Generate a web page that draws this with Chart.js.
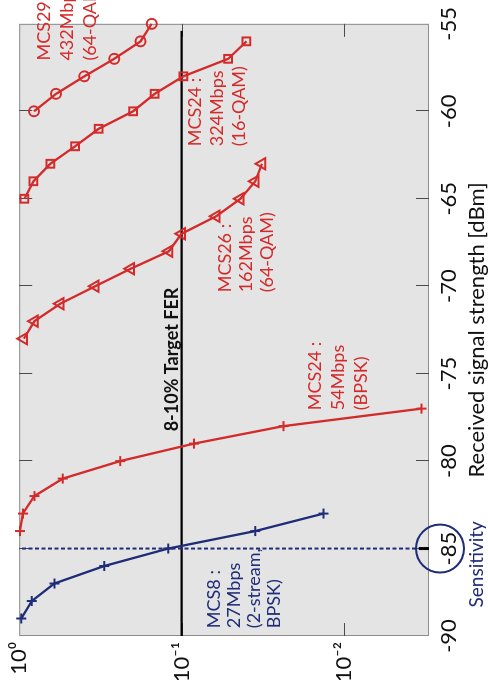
<!DOCTYPE html>
<html>
<head>
<meta charset="utf-8">
<script src="https://cdn.jsdelivr.net/npm/chart.js@4/dist/chart.umd.min.js"></script>
<style>
  html, body { margin: 0; padding: 0; background: #fff; overflow: hidden; width: 488px; height: 696px; }
  /* the figure is laid out landscape and turned a quarter turn for the portrait page */
  #wrap { position: absolute; left: 0; top: 0; width: 696px; height: 488px;
          transform-origin: 0 0; transform: translateY(696px) rotate(-90deg); }
</style>
</head>
<body>
<div id="wrap"><canvas id="fer" width="696" height="488"></canvas></div>
<script>
// Axis ticks
const dbmTicks = [-90, -85, -80, -75, -70, -65, -60, -55];
const ferTicks = [1, 0.1, 0.01];

// Frame error rate vs received signal strength, per MCS
const mcs8Dbm = [-89, -88, -87, -86, -85, -84, -83];
const mcs8Fer = [0.972, 0.836, 0.607, 0.300, 0.121, 0.0352, 0.0134];

const mcs24BpskDbm = [-84, -83, -82, -81, -80, -79, -78, -77];
const mcs24BpskFer = [0.99, 0.949, 0.806, 0.539, 0.239, 0.084, 0.0236, 0.00334];

const mcs26Dbm = [-73, -72, -71, -70, -69, -68, -67, -66, -65, -64, -63];
const mcs26Fer = [0.936, 0.806, 0.558, 0.340, 0.2055, 0.1197, 0.100, 0.0612, 0.0435, 0.0352, 0.032];

const mcs24QamDbm = [-65, -64, -63, -62, -61, -60, -59, -58, -57, -56];
const mcs24QamFer = [0.928, 0.817, 0.643, 0.453, 0.324, 0.199, 0.1465, 0.0976, 0.0517, 0.0399];

const mcs29Dbm = [-60, -59, -58, -57, -56, -55];
const mcs29Fer = [0.810, 0.593, 0.397, 0.260, 0.179, 0.153];

// Reference levels
const targetFer = 0.1;
const targetSpanDbm = [-90, -55.4];
const sensitivityDbm = -85;
const ferRange = [0.003, 1];

// Curve labels: text lines and the (dBm, FER) point where the first line starts
const RED = '#d42a2a';
const NAVY = '#1f2c78';
const curveLabels = [
  { lines: ['MCS29 :', '432Mbps', '(64-QAM)'], dbm: -57.1, fer: 0.703, color: RED, step: 23 },
  { lines: ['MCS24 :', '324Mbps', '(16-QAM)'], dbm: -62.0, fer: 0.082, color: RED, step: 22 },
  { lines: ['MCS26 :', '162Mbps', '(64-QAM)'], dbm: -70.35, fer: 0.0537, color: RED, step: 21 },
  { lines: ['MCS24 :', '54Mbps', '(BPSK)'], dbm: -77.09, fer: 0.01507, color: RED, step: 23 },
  { lines: ['MCS8 :', '27Mbps', '(2-stream,', 'BPSK)'], dbm: -89.55, fer: 0.0627, color: NAVY, step: 20 }
];

const pts = (xs, ys) => xs.map((x, i) => ({ x: x, y: ys[i] }));
const SUP = { '-': '\u207B', '0': '\u2070', '1': '\u00B9', '2': '\u00B2', '3': '\u00B3' };
const powerLabel = v => '10' + String(Math.round(Math.log10(v))).split('').map(c => SUP[c]).join('');

const FONT = 'Lato, "Open Sans", "DejaVu Sans", sans-serif';
Chart.defaults.font.family = FONT;

const curve = (data, color, style, radius) => ({
  data: data, borderColor: color, backgroundColor: 'rgba(0,0,0,0)',
  borderWidth: 2.3, pointStyle: style, pointRadius: radius, pointBorderWidth: 2,
  pointBorderColor: color, pointBackgroundColor: 'rgba(0,0,0,0)', tension: 0, clip: false
});

// Plot background, box, inward tick marks, labels and the sensitivity marker
const framePlugin = {
  id: 'frame',
  beforeDraw(chart) {
    const a = chart.chartArea, ctx = chart.ctx;
    ctx.save();
    ctx.fillStyle = '#e4e4e4';
    ctx.fillRect(a.left, a.top, a.right - a.left, a.bottom - a.top);
    ctx.restore();
  },
  beforeDatasetsDraw(chart) {
    const a = chart.chartArea, ctx = chart.ctx;
    const xs = chart.scales.x, ys = chart.scales.y;
    const len = 13;
    ctx.save();
    ctx.strokeStyle = '#8c8c8c';
    ctx.lineWidth = 1;
    ctx.strokeRect(a.left + 0.5, a.top + 0.5, a.right - a.left - 1, a.bottom - a.top - 1);
    ctx.strokeStyle = '#4a4a4a';
    ctx.beginPath();
    dbmTicks.slice(1, -1).forEach(v => {
      const px = Math.round(xs.getPixelForValue(v)) + 0.5;
      ctx.moveTo(px, a.top); ctx.lineTo(px, a.top + len);
      ctx.moveTo(px, a.bottom); ctx.lineTo(px, a.bottom - len);
    });
    ferTicks.slice(1).forEach(v => {
      const py = Math.round(ys.getPixelForValue(v)) + 0.5;
      ctx.moveTo(a.left, py); ctx.lineTo(a.left + len, py);
      ctx.moveTo(a.right, py); ctx.lineTo(a.right - len, py);
    });
    ctx.stroke();
    ctx.restore();
  },
  afterDatasetsDraw(chart) {
    const a = chart.chartArea, ctx = chart.ctx;
    const xs = chart.scales.x, ys = chart.scales.y;
    ctx.save();
    ctx.textAlign = 'left';
    ctx.textBaseline = 'middle';
    ctx.font = '18px ' + FONT;
    curveLabels.forEach(l => {
      const x0 = xs.getPixelForValue(l.dbm), y0 = ys.getPixelForValue(l.fer);
      ctx.fillStyle = l.color;
      l.lines.forEach((t, i) => ctx.fillText(t, x0, y0 + i * l.step));
    });
    // target FER caption sits just above its line
    ctx.fillStyle = '#111';
    ctx.font = 'bold 18px ' + FONT;
    ctx.textBaseline = 'alphabetic';
    ctx.fillText('8-10% Target FER', xs.getPixelForValue(-78.3), ys.getPixelForValue(targetFer) - 4);
    // heavier tick at the sensitivity point
    const sx = xs.getPixelForValue(sensitivityDbm);
    ctx.strokeStyle = '#000';
    ctx.lineWidth = 3;
    ctx.beginPath();
    ctx.moveTo(sx, a.bottom); ctx.lineTo(sx, a.bottom - 10);
    ctx.stroke();
    ctx.restore();
  },
  afterDraw(chart) {
    const a = chart.chartArea, ctx = chart.ctx;
    const sx = chart.scales.x.getPixelForValue(sensitivityDbm);
    ctx.save();
    ctx.strokeStyle = NAVY;
    ctx.lineWidth = 2;
    ctx.beginPath();
    ctx.arc(sx, a.bottom + 11, 24, 0, Math.PI * 2);
    ctx.stroke();
    ctx.fillStyle = NAVY;
    ctx.font = '19px ' + FONT;
    ctx.textAlign = 'center';
    ctx.textBaseline = 'middle';
    ctx.fillText('Sensitivity', chart.scales.x.getPixelForValue(-85.9), a.bottom + 48);
    ctx.restore();
  }
};

new Chart(document.getElementById('fer'), {
  type: 'line',
  data: {
    datasets: [
      curve(pts(mcs8Dbm, mcs8Fer), NAVY, 'cross', 5),
      curve(pts(mcs24BpskDbm, mcs24BpskFer), RED, 'cross', 5),
      curve(pts(mcs26Dbm, mcs26Fer), RED, 'triangle', 6.5),
      curve(pts(mcs24QamDbm, mcs24QamFer), RED, 'rect', 5.5),
      curve(pts(mcs29Dbm, mcs29Fer), RED, 'circle', 5),
      { data: pts(targetSpanDbm, [targetFer, targetFer]), borderColor: '#000', borderWidth: 2.2,
        pointRadius: 0, order: 10, clip: false },
      { data: pts([sensitivityDbm, sensitivityDbm], ferRange), borderColor: NAVY, borderWidth: 2,
        borderDash: [4, 2.5], pointRadius: 0, order: 5, clip: false }
    ]
  },
  options: {
    responsive: false,
    animation: false,
    devicePixelRatio: 1,
    layout: { padding: { left: 16, top: 18, right: 18, bottom: 0 } },
    plugins: { legend: { display: false }, tooltip: { enabled: false } },
    scales: {
      x: {
        type: 'linear', min: -90, max: -55,
        afterBuildTicks: s => { s.ticks = dbmTicks.map(v => ({ value: v })); },
        afterFit: s => { s.height = 59; },
        grid: { display: false, drawTicks: false },
        border: { display: false },
        ticks: { autoSkip: false, maxRotation: 0, padding: 7, color: '#111',
                 font: { size: 22 }, callback: v => String(v) },
        title: { display: true, text: 'Received signal strength [dBm]', color: '#111',
                 font: { size: 22 }, padding: { top: 0, bottom: -2 } }
      },
      y: {
        type: 'logarithmic', min: ferRange[0], max: ferRange[1],
        afterBuildTicks: s => { s.ticks = ferTicks.map(v => ({ value: v })); },
        afterFit: s => { s.width = 44; },
        grid: { display: false, drawTicks: false },
        border: { display: false },
        ticks: { autoSkip: false, crossAlign: 'near', padding: 6, color: '#111',
                 font: { size: 22 }, callback: v => powerLabel(v) }
      }
    }
  },
  plugins: [framePlugin]
});
</script>
</body>
</html>
